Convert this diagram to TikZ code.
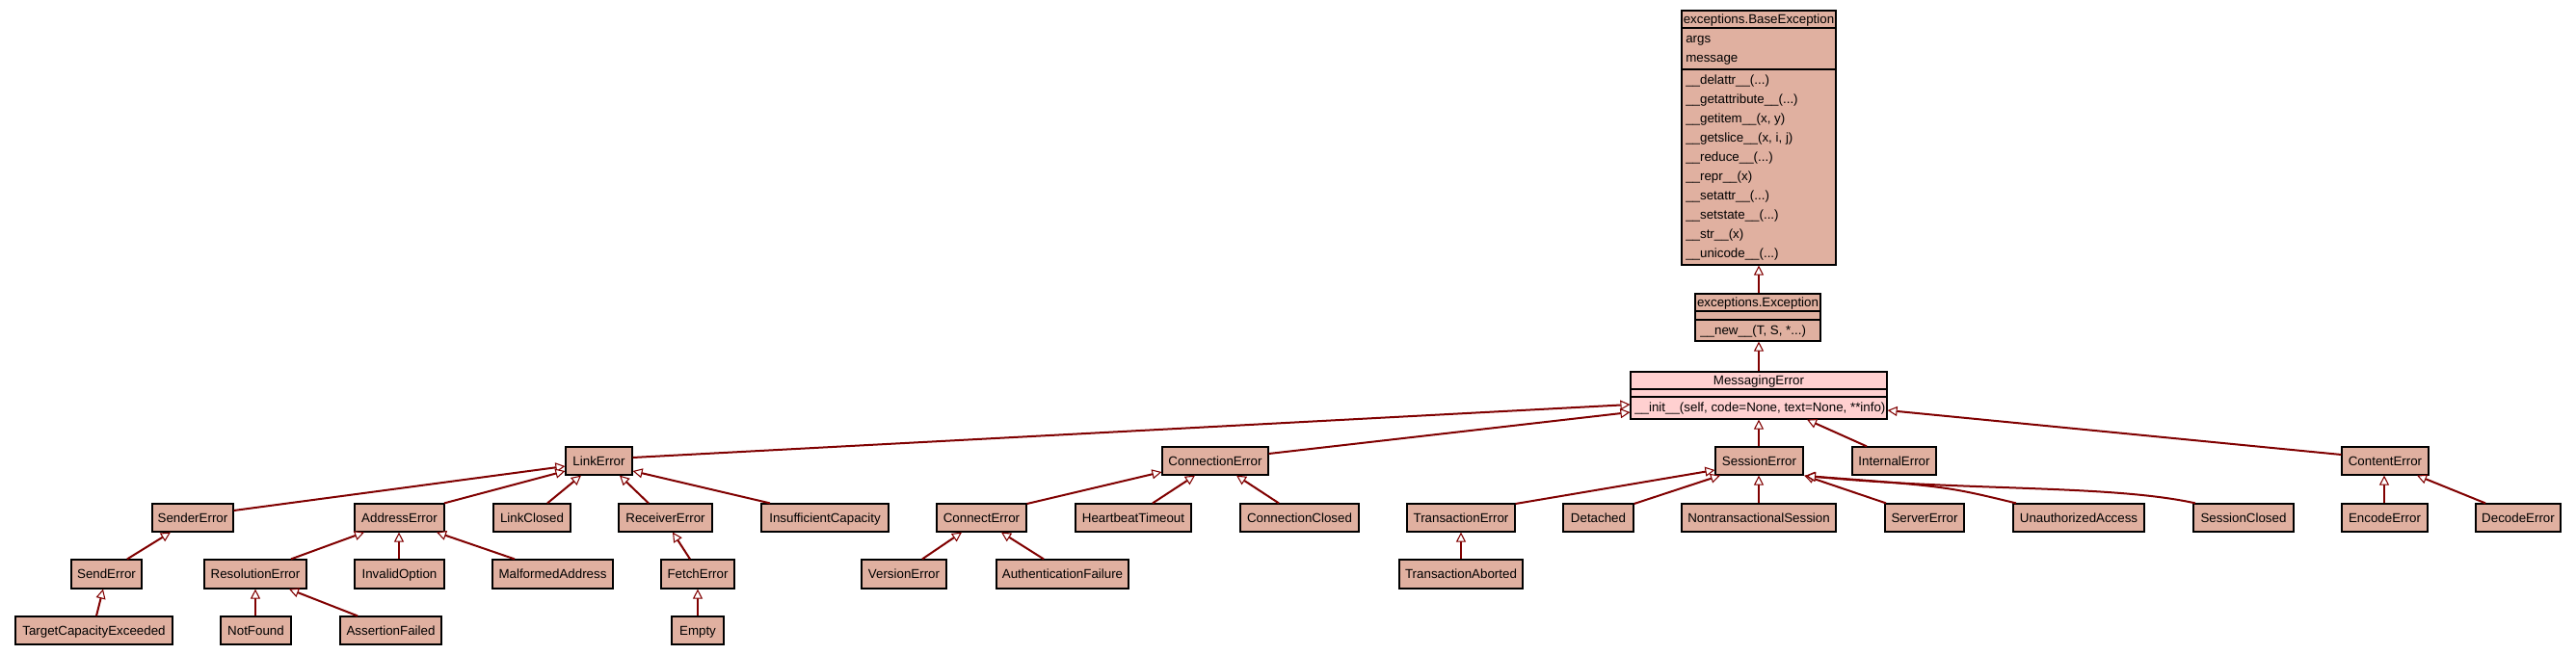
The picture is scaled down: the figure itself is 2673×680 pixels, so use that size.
\documentclass[tikz,border=0pt]{standalone}
\usepackage{fontspec}
\setmainfont{Liberation Sans}
\usetikzlibrary{arrows.meta}
\definecolor{clsbg}{HTML}{E0B0A0}
\definecolor{selbg}{HTML}{FFD0D0}
\definecolor{inhc}{HTML}{800000}
\tikzset{
  cls/.style={draw=black, line width=0.9pt, fill=clsbg, inner sep=0pt,
    font=\fontsize{10}{12}\selectfont, text height=9pt, text depth=1.8pt},
  sel/.style={cls, fill=selbg},
  sepline/.style={draw=black, line width=1.4pt},
  inh/.style={draw=inhc, line width=1.5pt,
    -{Triangle[fill=white, length=7.5pt, width=7.5pt, line width=0.8pt]}},
  txt/.style={inner sep=0pt, anchor=west, font=\fontsize{10}{12}\selectfont,
    text height=9pt, text depth=1.8pt},
}
\newcommand\cbox[7][cls]{\node[#1, minimum width={(#5-#3)*0.75pt}, minimum height={(#6-#4)*0.75pt}] (#2) at ({(#3+#5)/2},{(#4+#6)/2}) {#7};}
\begin{document}
\begin{tikzpicture}[x=0.75pt, y=-0.75pt]
\useasboundingbox (0,0) rectangle (2673,680);

% ---- BaseException (multi compartment)
\cbox{base}{1745}{11}{1905}{275}{}
\draw[sepline] (base.west |- 0,29) -- (base.east |- 0,29);
\draw[sepline] (base.west |- 0,72) -- (base.east |- 0,72);
\node[txt, anchor=center] (baset) at (1825,20) {exceptions.BaseException};
\node[txt] (ba1) at (1749,40) {args};
\node[txt] (ba2) at (1749,60) {message};
\node[txt] (bm1) at (1749,83) {\_\_delattr\_\_(...)};
\node[txt] (bm2) at (1749,103) {\_\_getattribute\_\_(...)};
\node[txt] (bm3) at (1749,123) {\_\_getitem\_\_(x, y)};
\node[txt] (bm4) at (1749,143) {\_\_getslice\_\_(x, i, j)};
\node[txt] (bm5) at (1749,163) {\_\_reduce\_\_(...)};
\node[txt] (bm6) at (1749,183) {\_\_repr\_\_(x)};
\node[txt] (bm7) at (1749,203) {\_\_setattr\_\_(...)};
\node[txt] (bm8) at (1749,223) {\_\_setstate\_\_(...)};
\node[txt] (bm9) at (1749,243) {\_\_str\_\_(x)};
\node[txt] (bm10) at (1749,263) {\_\_unicode\_\_(...)};

% ---- Exception
\cbox{exc}{1759}{305}{1889}{354}{}
\draw[sepline] (exc.west |- 0,323) -- (exc.east |- 0,323);
\draw[sepline] (exc.west |- 0,332) -- (exc.east |- 0,332);
\node[txt, anchor=center] (exct) at (1824,314) {exceptions.Exception};
\node[txt] (excm) at (1764,343) {\_\_new\_\_(T, S, *...)};

% ---- MessagingError
\cbox[sel]{msg}{1692}{386}{1958}{435}{}
\draw[sepline] (msg.west |- 0,404) -- (msg.east |- 0,404);
\draw[sepline] (msg.west |- 0,412) -- (msg.east |- 0,412);
\node[txt, anchor=center] (msgt) at (1825,395) {MessagingError};
\node[txt] (msgm) at (1696,423) {\_\_init\_\_(self, code=None, text=None, **info)};

% ---- Row 1
\cbox{link}{587}{464}{656}{493}{LinkError}
\cbox{conn}{1206}{464}{1316}{493}{ConnectionError}
\cbox{sess}{1780}{464}{1871}{493}{SessionError}
\cbox{internal}{1922}{464}{2009}{493}{InternalError}
\cbox{content}{2430}{464}{2520}{493}{ContentError}

% ---- Row 2
\cbox{sender}{158}{523}{242}{552}{SenderError}
\cbox{address}{368}{523}{461}{552}{AddressError}
\cbox{linkclosed}{512}{523}{592}{552}{LinkClosed}
\cbox{receiver}{642}{523}{739}{552}{ReceiverError}
\cbox{insuff}{790}{523}{922}{552}{InsufficientCapacity}
\cbox{connect}{972}{523}{1065}{552}{ConnectError}
\cbox{heartbeat}{1116}{523}{1236}{552}{HeartbeatTimeout}
\cbox{connclosed}{1287}{523}{1410}{552}{ConnectionClosed}
\cbox{trans}{1460}{523}{1572}{552}{TransactionError}
\cbox{detached}{1622}{523}{1695}{552}{Detached}
\cbox{nontrans}{1745}{523}{1905}{552}{NontransactionalSession}
\cbox{server}{1956}{523}{2038}{552}{ServerError}
\cbox{unauth}{2089}{523}{2225}{552}{UnauthorizedAccess}
\cbox{sessclosed}{2276}{523}{2380}{552}{SessionClosed}
\cbox{encode}{2430}{523}{2519}{552}{EncodeError}
\cbox{decode}{2569}{523}{2657}{552}{DecodeError}

% ---- Row 3
\cbox{send}{74}{581}{147}{611}{SendError}
\cbox{resolution}{212}{581}{318}{611}{ResolutionError}
\cbox{invalid}{368}{581}{461}{611}{InvalidOption}
\cbox{malformed}{511}{581}{636}{611}{MalformedAddress}
\cbox{fetch}{686}{581}{762}{611}{FetchError}
\cbox{version}{894}{581}{982}{611}{VersionError}
\cbox{auth}{1034}{581}{1171}{611}{AuthenticationFailure}
\cbox{aborted}{1452}{581}{1580}{611}{TransactionAborted}

% ---- Row 4
\cbox{target}{16}{640}{179}{669}{TargetCapacityExceeded}
\cbox{notfound}{229}{640}{302}{669}{NotFound}
\cbox{assertion}{353}{640}{458}{669}{AssertionFailed}
\cbox{empty}{697}{640}{751}{669}{Empty}

% ---- Inheritance edges (child -> parent)
\draw[inh] (1825,0 |- exc.north) -- (1825,0 |- base.south);
\draw[inh] (1825,0 |- msg.north) -- (1825,0 |- exc.south);
\draw[inh] (link.east |- 0,475) -- (msg.west |- 0,420);
\draw[inh] (conn.east |- 0,471) -- (msg.west |- 0,428);
\draw[inh] (1825,0 |- sess.north) -- (1825,0 |- msg.south);
\draw[inh] (1937,0 |- internal.north) -- (1875,0 |- msg.south);
\draw[inh] (content.west |- 0,472) -- (msg.east |- 0,426);

\draw[inh] (sender.east |- 0,530) -- (link.west |- 0,484);
\draw[inh] (461,0 |- address.north) -- (link.west |- 0,489);
\draw[inh] (568,0 |- linkclosed.north) -- (603,0 |- link.south);
\draw[inh] (673,0 |- receiver.north) -- (643,0 |- link.south);
\draw[inh] (799,0 |- insuff.north) -- (link.east |- 0,489);

\draw[inh] (132,0 |- send.north) -- (177,0 |- sender.south);
\draw[inh] (100,0 |- target.north) -- (107,0 |- send.south);
\draw[inh] (302,0 |- resolution.north) -- (378,0 |- address.south);
\draw[inh] (414,0 |- invalid.north) -- (414,0 |- address.south);
\draw[inh] (534,0 |- malformed.north) -- (453,0 |- address.south);
\draw[inh] (265,0 |- notfound.north) -- (265,0 |- resolution.south);
\draw[inh] (371,0 |- assertion.north) -- (300,0 |- resolution.south);
\draw[inh] (716,0 |- fetch.north) -- (698,0 |- receiver.south);
\draw[inh] (724,0 |- empty.north) -- (724,0 |- fetch.south);

\draw[inh] (connect.east |- 0,523) -- (conn.west |- 0,490);
\draw[inh] (1196,0 |- heartbeat.north) -- (1240,0 |- conn.south);
\draw[inh] (1327,0 |- connclosed.north) -- (1283,0 |- conn.south);
\draw[inh] (957,0 |- version.north) -- (998,0 |- connect.south);
\draw[inh] (1083,0 |- auth.north) -- (1039,0 |- connect.south);

\draw[inh] (trans.east |- 0,523) -- (sess.west |- 0,488);
\draw[inh] (detached.east |- 0,523) -- (1785,0 |- sess.south);
\draw[inh] (1825,0 |- nontrans.north) -- (1825,0 |- sess.south);
\draw[inh] (1957,0 |- server.north) -- (1872,0 |- sess.south);
\draw[inh] (2092,0 |- unauth.north) .. controls (2020,505) .. (1873,494);
\draw[inh] (2278,0 |- sessclosed.north) .. controls (2190,503) and (2040,510) .. (1874,494);
\draw[inh] (1516,0 |- aborted.north) -- (1516,0 |- trans.south);

\draw[inh] (2474,0 |- encode.north) -- (2474,0 |- content.south);
\draw[inh] (2579,0 |- decode.north) -- (2508,0 |- content.south);
\end{tikzpicture}
\end{document}
